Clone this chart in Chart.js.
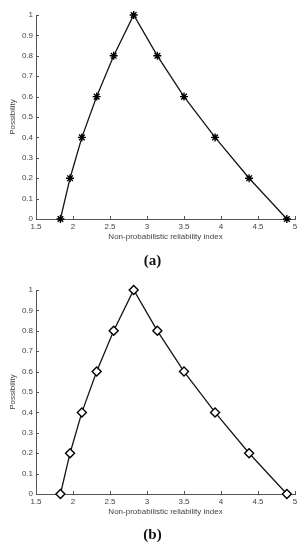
<!DOCTYPE html>
<html><head><meta charset="utf-8">
<script src="https://cdn.jsdelivr.net/npm/chart.js@4"></script>
<style>
html,body{margin:0;padding:0;background:#fff;width:305px;height:550px;overflow:hidden;}
.wrap{position:absolute;left:0;width:305px;height:275px;}
canvas{position:absolute;left:0;top:0;}
.cap{position:absolute;left:0;width:305px;text-align:center;font:bold 15px "Liberation Serif","DejaVu Serif",serif;color:#111;}
</style></head>
<body>
<div class="wrap" style="top:0"><canvas id="ca" width="305" height="275"></canvas><div class="cap" style="top:252px">(a)</div></div>
<div class="wrap" style="top:275px"><canvas id="cb" width="305" height="275"></canvas><div class="cap" style="top:251px">(b)</div></div>
<script>
const reliabilityIndex = [1.83, 1.96, 2.12, 2.32, 2.55, 2.82, 3.14, 3.5, 3.92, 4.38, 4.89];
const possibility = [0, 0.2, 0.4, 0.6, 0.8, 1, 0.8, 0.6, 0.4, 0.2, 0];
const xTickValues = [1.5, 2, 2.5, 3, 3.5, 4, 4.5, 5];
const xTickLabels = ['1.5', '2', '2.5', '3', '3.5', '4', '4.5', '5'];
const yTickValues = [0, 0.1, 0.2, 0.3, 0.4, 0.5, 0.6, 0.7, 0.8, 0.9, 1];
const yTickLabels = ['0', '0.1', '0.2', '0.3', '0.4', '0.5', '0.6', '0.7', '0.8', '0.9', '1'];
const xTitle = 'Non-probabilistic reliability index';
const yTitle = 'Possibility';

const axisColor = '#555';
const labelColor = '#444';
const tickFont = {family: '"Liberation Sans", Arial, sans-serif', size: 8};

const inwardTicks = {
  id: 'inwardTicks',
  afterDraw(chart) {
    const ctx = chart.ctx, a = chart.chartArea;
    const xs = chart.scales.x, ys = chart.scales.y;
    ctx.save();
    ctx.strokeStyle = axisColor;
    ctx.lineWidth = 1;
    ctx.beginPath();
    xTickValues.forEach(v => {
      const px = Math.round(xs.getPixelForValue(v)) + 0.5;
      ctx.moveTo(px, a.bottom); ctx.lineTo(px, a.bottom - 3);
    });
    yTickValues.forEach(v => {
      const py = Math.round(ys.getPixelForValue(v)) + 0.5;
      ctx.moveTo(a.left, py); ctx.lineTo(a.left + 3, py);
    });
    ctx.stroke();
    ctx.restore();
  }
};

function makeChart(id, pointStyle, radius, pointBg) {
  const data = reliabilityIndex.map((x, i) => ({x: x, y: possibility[i]}));
  return new Chart(document.getElementById(id), {
    type: 'scatter',
    data: {datasets: [{
      data: data,
      showLine: true,
      borderColor: '#151515',
      borderWidth: 1.3,
      pointStyle: pointStyle,
      pointRadius: radius,
      pointBorderWidth: 1.4,
      pointBorderColor: '#000',
      pointBackgroundColor: pointBg,
      clip: false
    }]},
    options: {
      responsive: false,
      animation: false,
      events: [],
      layout: {padding: {left: 6, right: 10, top: 15, bottom: 30}},
      plugins: {legend: {display: false}, tooltip: {enabled: false}},
      scales: {
        x: {
          type: 'linear', min: 1.5, max: 5,
          afterBuildTicks: s => { s.ticks = xTickValues.map(v => ({value: v})); },
          afterFit: s => { s.height = 26; },
          grid: {display: true, drawOnChartArea: false, drawTicks: false},
          border: {display: true, color: axisColor, width: 1},
          ticks: {font: tickFont, color: labelColor, padding: 3, maxRotation: 0, autoSkip: false,
                  callback: (v, i) => xTickLabels[i]},
          title: {display: true, text: xTitle, font: tickFont, color: labelColor, padding: {top: 4, bottom: 3}}
        },
        y: {
          type: 'linear', min: 0, max: 1,
          afterBuildTicks: s => { s.ticks = yTickValues.map(v => ({value: v})); },
          afterFit: s => { s.width = 30; },
          grid: {display: true, drawOnChartArea: false, drawTicks: false},
          border: {display: true, color: axisColor, width: 1},
          ticks: {font: tickFont, color: labelColor, padding: 3, autoSkip: false,
                  callback: (v, i) => yTickLabels[i]},
          title: {display: true, text: yTitle, font: tickFont, color: labelColor, padding: {top: 2, bottom: 2}}
        }
      }
    },
    plugins: [inwardTicks]
  });
}

makeChart('ca', 'star', 4, '#000');
makeChart('cb', 'rectRot', 4.5, '#fff');
</script>
</body></html>
